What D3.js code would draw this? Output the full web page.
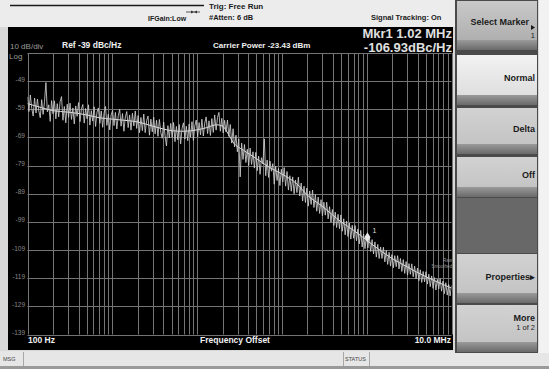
<!DOCTYPE html>
<html>
<head>
<meta charset="utf-8">
<script src="https://cdn.jsdelivr.net/npm/d3@7/dist/d3.min.js"></script>
<style>
  body { margin: 0; background: #d8d8d8; }
  svg { display: block; font-family: 'Liberation Sans', Arial, sans-serif; }
</style>
</head>
<body>
<svg id="screen" width="549" height="369"></svg>
<script>
// Sweep settings
const FREQ_START = 100;
const FREQ_STOP = 1e7;
const REF_LEVEL = -39;
const BOTTOM_LEVEL = -139;

// Y tick labels (10 dB/div)
const levelTicks = [-49, -59, -69, -79, -89, -99, -109, -119, -129, -139];

// Log grid: 1..9 per decade
const gridDecades = [1e2, 1e3, 1e4, 1e5, 1e6];
const gridSteps = [1, 2, 3, 4, 5, 6, 7, 8, 9];

// Smoothed trace
const smoothFreq = [100, 150, 200, 300, 500, 700, 1e3, 1.5e3, 2e3, 3e3, 4e3, 5e3, 7e3, 1e4, 1.3e4, 1.7e4, 2e4, 2.3e4, 2.7e4, 3.5e4, 5e4, 7e4, 1e5, 1.5e5, 2e5, 3e5, 5e5, 7e5, 1e6, 1.5e6, 2e6, 3e6, 5e6, 7e6, 1e7];
const smoothLevel = [-57, -58.5, -59.5, -60, -61, -62, -62.5, -63, -63.5, -65, -66, -66.6, -66.8, -66.3, -65.5, -64.5, -65, -67.5, -71, -73.5, -76.5, -79.5, -82, -85.5, -89.5, -93.5, -99, -102, -105.5, -109.5, -112, -115, -118.5, -120.5, -122.5];

// Raw trace, 300 log-spaced sweep points from 100 Hz to 10 MHz
const rawLevel = [
  -54.6, -59.8, -53.9, -58.7, -61.4, -55.0, -60.3, -55.4, -59.6, -62.0,
  -55.6, -60.8, -56.2, -49.5, -59.9, -57.4, -63.3, -55.9, -60.6, -56.0,
  -62.4, -57.0, -61.7, -56.3, -54.5, -62.9, -58.0, -63.8, -57.2, -61.9,
  -56.8, -62.6, -58.5, -64.2, -57.8, -61.5, -56.6, -63.4, -59.0, -57.3,
  -63.9, -58.7, -62.4, -57.4, -64.6, -59.5, -63.2, -58.1, -65.1, -60.0,
  -58.5, -64.0, -59.6, -65.4, -60.3, -58.0, -64.7, -60.7, -66.3, -61.0,
  -59.4, -64.8, -60.1, -66.0, -61.3, -59.0, -65.0, -60.5, -66.8, -61.7,
  -59.8, -65.5, -61.0, -66.4, -60.4, -64.9, -59.6, -65.8, -61.2, -67.3,
  -61.9, -66.6, -60.7, -67.3, -63.0, -61.4, -68.2, -62.5, -67.0, -61.8,
  -67.7, -62.9, -68.6, -62.6, -67.2, -69.3, -63.5, -68.4, -72.0, -64.8,
  -69.2, -64.0, -69.0, -63.7, -70.5, -65.1, -69.8, -64.4, -71.3, -65.7,
  -63.8, -69.6, -65.0, -70.2, -64.2, -68.9, -63.4, -70.1, -64.9, -62.8,
  -68.8, -63.7, -68.1, -62.5, -68.5, -63.9, -61.7, -67.6, -63.1, -68.3,
  -62.3, -67.2, -61.0, -66.4, -61.9, -60.1, -66.8, -62.2, -67.4, -62.9,
  -67.0, -62.8, -68.6, -64.4, -71.0, -65.9, -72.4, -68.2, -74.1, -69.5,
  -83.0, -71.0, -76.8, -71.5, -77.9, -73.2, -79.0, -72.8, -78.6, -74.1,
  -79.9, -74.3, -80.8, -75.6, -82.1, -76.2, -78.4, -69.5, -82.6, -77.0,
  -83.2, -77.4, -81.0, -78.3, -85.6, -79.2, -84.3, -80.0, -86.1, -80.3,
  -84.8, -79.7, -86.3, -81.1, -87.7, -82.6, -88.1, -83.0, -89.0, -84.1,
  -88.6, -83.1, -89.8, -85.2, -91.6, -86.3, -92.1, -87.0, -93.4, -88.0,
  -92.8, -87.7, -93.9, -89.3, -95.2, -90.2, -96.0, -91.1, -96.9, -92.0,
  -96.6, -92.0, -97.9, -93.6, -99.1, -94.6, -100.3, -95.5, -101.0, -96.3,
  -101.4, -96.5, -102.3, -97.9, -103.6, -98.7, -104.2, -99.4, -105.1, -100.2,
  -104.8, -100.3, -105.7, -101.5, -106.8, -102.0, -107.9, -103.3, -108.5, -104.0,
  -108.3, -104.0, -109.5, -105.3, -110.4, -106.1, -111.5, -107.0, -112.0, -107.9,
  -112.0, -108.0, -113.2, -109.1, -114.1, -109.8, -114.7, -110.6, -115.3, -111.0,
  -114.9, -111.0, -115.7, -112.0, -116.6, -112.4, -117.3, -113.1, -117.9, -113.8,
  -117.6, -113.9, -118.5, -114.7, -119.2, -115.4, -119.9, -116.0, -120.5, -116.6,
  -120.3, -116.7, -121.1, -117.6, -122.0, -118.2, -122.6, -118.8, -123.2, -119.4,
  -122.8, -119.2, -123.6, -120.0, -124.5, -120.6, -125.0, -121.2, -125.3, -121.6
];

// Marker 1
const markerFreq = [1.02e6];
const markerLevel = [-106.93];

// Softkeys on the right
const softkeyTitles = ['Select Marker', 'Normal', 'Delta', 'Off', '', 'Properties\u25B8', 'More'];
const softkeySubtitles = ['1', '', '', '', '', '', '1 of 2'];

const svg = d3.select('#screen');

// ---- frame pieces ----
svg.append('rect').attr('x', 0).attr('y', 0).attr('width', 549).attr('height', 369).attr('fill', '#d8d8d8');
svg.append('rect').attr('x', 0).attr('y', 0).attr('width', 455).attr('height', 27).attr('fill', '#ececec');
svg.append('line').attr('x1', 10).attr('x2', 204).attr('y1', 5.5).attr('y2', 5.5)
  .attr('stroke', '#1a1a1a').attr('stroke-width', 1.6);
// little trigger arrow symbol
svg.append('line').attr('x1', 186).attr('x2', 200).attr('y1', 12).attr('y2', 12).attr('stroke', '#333').attr('stroke-width', 0.8);
svg.append('path').attr('d', 'M191,10.5 L194,12 L191,13.5 Z M197,10.5 L194,12 L197,13.5 Z').attr('fill', '#333');

const topTexts = [
  { t: 'Trig: Free Run', x: 209, y: 9, s: 8 },
  { t: '#Atten: 6 dB', x: 209, y: 20, s: 7.5 },
  { t: 'IFGain:Low', x: 148, y: 21, s: 7 },
  { t: 'Signal Tracking: On', x: 371, y: 20, s: 7.5 }
];
svg.selectAll('text.top').data(topTexts).enter().append('text')
  .attr('class', 'top')
  .attr('x', d => d.x).attr('y', d => d.y)
  .attr('font-size', d => d.s).attr('font-weight', 'bold').attr('fill', '#1a1a1a')
  .text(d => d.t);

// black display
svg.append('rect').attr('x', 8).attr('y', 27).attr('width', 445).attr('height', 323).attr('fill', '#000');

// status bar
svg.append('rect').attr('x', 0).attr('y', 351).attr('width', 549).attr('height', 15).attr('fill', '#e6e6e6');
svg.append('rect').attr('x', 0).attr('y', 366).attr('width', 549).attr('height', 3).attr('fill', '#9a9a9a');
[23, 343, 369].forEach(x => {
  svg.append('line').attr('x1', x + 0.5).attr('x2', x + 0.5).attr('y1', 352).attr('y2', 366).attr('stroke', '#a8a8a8');
});
svg.append('text').attr('x', 3).attr('y', 361).attr('font-size', 5.5).attr('fill', '#444').text('MSG');
svg.append('text').attr('x', 345).attr('y', 361).attr('font-size', 5.5).attr('fill', '#444').text('STATUS');

// ---- plot ----
const x = d3.scaleLog().domain([FREQ_START, FREQ_STOP]).range([27.5, 451.5]);
const y = d3.scaleLinear().domain([BOTTOM_LEVEL, REF_LEVEL]).range([334.5, 53]);

const gridFreqs = gridDecades.flatMap(dec => gridSteps.map(k => k * dec)).concat([FREQ_STOP]);
const allLevels = [REF_LEVEL].concat(levelTicks);

const grid = svg.append('g').attr('stroke', '#747474').attr('stroke-width', 1);
grid.selectAll('line.v').data(gridFreqs).enter().append('line')
  .attr('x1', d => Math.round(x(d)) + 0.5).attr('x2', d => Math.round(x(d)) + 0.5)
  .attr('y1', y(REF_LEVEL)).attr('y2', y(BOTTOM_LEVEL));
grid.selectAll('line.h').data(allLevels).enter().append('line')
  .attr('x1', x(FREQ_START)).attr('x2', x(FREQ_STOP))
  .attr('y1', d => Math.round(y(d)) + 0.5).attr('y2', d => Math.round(y(d)) + 0.5);

svg.selectAll('text.ytick').data(levelTicks).enter().append('text')
  .attr('class', 'ytick')
  .attr('x', 25).attr('y', d => y(d) + 0.5)
  .attr('text-anchor', 'end').attr('font-size', 6.5).attr('fill', '#8a8a8a')
  .text(d => d);

svg.append('clipPath').attr('id', 'plotClip').append('rect')
  .attr('x', x(FREQ_START)).attr('y', y(REF_LEVEL))
  .attr('width', x(FREQ_STOP) - x(FREQ_START)).attr('height', y(BOTTOM_LEVEL) - y(REF_LEVEL));

const rawFreq = rawLevel.map((_, i) => FREQ_START * Math.pow(FREQ_STOP / FREQ_START, i / (rawLevel.length - 1)));
const line = d3.line().x(d => x(d[0])).y(d => y(d[1]));

svg.append('path')
  .datum(smoothFreq.map((f, i) => [f, smoothLevel[i]]))
  .attr('clip-path', 'url(#plotClip)')
  .attr('d', d3.line().curve(d3.curveMonotoneX).x(d => x(d[0])).y(d => y(d[1])))
  .attr('fill', 'none').attr('stroke', '#e6e6e6').attr('stroke-width', 1);

svg.append('path')
  .datum(rawFreq.map((f, i) => [f, rawLevel[i]]))
  .attr('clip-path', 'url(#plotClip)')
  .attr('d', line).attr('fill', 'none').attr('stroke', '#cfcfcf').attr('stroke-width', 0.85);

// marker diamond
const mk = svg.selectAll('g.marker').data(markerFreq.map((f, i) => [f, markerLevel[i]])).enter()
  .append('g').attr('class', 'marker')
  .attr('transform', d => `translate(${x(d[0])},${y(d[1]) - 7})`);
mk.append('path').attr('d', 'M0,-5 L3,0 L0,5 L-3,0 Z').attr('fill', '#e8e8e8');
mk.append('text').attr('x', 5).attr('y', -4).attr('font-size', 7).attr('fill', '#ddd').text((d, i) => i + 1);

// Raw / Smoothed legend
svg.append('text').attr('x', 452).attr('y', 262).attr('text-anchor', 'end').attr('font-size', 4.5).attr('fill', '#999').text('Raw');
svg.append('text').attr('x', 452).attr('y', 268).attr('text-anchor', 'end').attr('font-size', 4.5).attr('fill', '#999').text('Smoothed');

// annotation texts
svg.append('text').attr('x', 10).attr('y', 49).attr('font-size', 8).attr('fill', '#9a9a9a').text('10 dB/div');
svg.append('text').attr('x', 9).attr('y', 59).attr('font-size', 8).attr('fill', '#9a9a9a').text('Log');
svg.append('text').attr('x', 62).attr('y', 48).attr('font-size', 8.5).attr('font-weight', 'bold').attr('fill', '#f0f0f0').text('Ref  -39 dBc/Hz');
svg.append('text').attr('x', 213).attr('y', 48).attr('font-size', 8).attr('font-weight', 'bold').attr('fill', '#f0f0f0').text('Carrier Power -23.43 dBm');
svg.append('text').attr('x', 452).attr('y', 38).attr('text-anchor', 'end').attr('font-size', 13).attr('font-weight', 'bold').attr('fill', '#e0e0e0')
  .text(`Mkr1 ${(markerFreq[0] / 1e6).toFixed(2)} MHz`);
svg.append('text').attr('x', 452).attr('y', 52).attr('text-anchor', 'end').attr('font-size', 13).attr('font-weight', 'bold').attr('fill', '#e0e0e0')
  .text(`${markerLevel[0].toFixed(2)}dBc/Hz`);
svg.append('text').attr('x', 28).attr('y', 343).attr('font-size', 8.5).attr('font-weight', 'bold').attr('fill', '#f0f0f0').text('100 Hz');
svg.append('text').attr('x', 235).attr('y', 343).attr('text-anchor', 'middle').attr('font-size', 8.5).attr('font-weight', 'bold').attr('fill', '#f0f0f0').text('Frequency Offset');
svg.append('text').attr('x', 451).attr('y', 343).attr('text-anchor', 'end').attr('font-size', 8.5).attr('font-weight', 'bold').attr('fill', '#f0f0f0').text('10.0 MHz');

// ---- softkey panel ----
svg.append('rect').attr('x', 455).attr('y', 0).attr('width', 83).attr('height', 353).attr('fill', '#4a4a4a');
svg.append('rect').attr('x', 539).attr('y', 0).attr('width', 10).attr('height', 353).attr('fill', '#f2f2f2');

const defs = svg.append('defs');
const grad = (id, top, bottom) => {
  const g = defs.append('linearGradient').attr('id', id).attr('x1', 0).attr('x2', 0).attr('y1', 0).attr('y2', 1);
  g.append('stop').attr('offset', '0%').attr('stop-color', top);
  g.append('stop').attr('offset', '100%').attr('stop-color', bottom);
};
grad('keyDark', '#c9c9c9', '#a9a9a9');
grad('keyLight', '#f2f2f2', '#dadada');
grad('keyMid', '#d2d2d2', '#c0c0c0');
grad('keyBand', '#9a9a9a', '#6a6a6a');

const keyTops = [1, 55, 108, 157, 198, 254, 305];
const keyBottoms = [50, 105, 154, 197, 253, 303, 352];
const keyFills = ['url(#keyDark)', 'url(#keyLight)', 'url(#keyMid)', 'url(#keyMid)', '#686868', 'url(#keyMid)', 'url(#keyMid)'];

const keys = svg.selectAll('g.key').data(softkeyTitles).enter().append('g').attr('class', 'key');
keys.append('rect')
  .attr('x', 457).attr('y', (d, i) => keyTops[i])
  .attr('width', 80).attr('height', (d, i) => keyBottoms[i] - keyTops[i])
  .attr('fill', (d, i) => keyFills[i]);
keys.filter(d => d !== '').append('rect')
  .attr('x', 457).attr('y', d => keyBottoms[softkeyTitles.indexOf(d)] - 10)
  .attr('width', 80).attr('height', 10)
  .attr('fill', 'url(#keyBand)');
keys.filter(d => d !== '').append('text')
  .attr('x', d => d === 'Select Marker' ? 529 : 535)
  .attr('y', d => {
    const i = softkeyTitles.indexOf(d);
    return softkeySubtitles[i] ? keyTops[i] + 24 - (i === 6 ? 8 : 0) : (keyTops[i] + keyBottoms[i]) / 2 + 1;
  })
  .attr('text-anchor', 'end').attr('font-size', 9).attr('font-weight', 'bold').attr('fill', '#1a1a1a')
  .text(d => d);
keys.filter(d => d !== '').append('text')
  .attr('x', 535)
  .attr('y', d => { const i = softkeyTitles.indexOf(d); return keyTops[i] + (i === 6 ? 25 : 37); })
  .attr('text-anchor', 'end').attr('font-size', 7.5).attr('fill', '#1a1a1a')
  .text(d => softkeySubtitles[softkeyTitles.indexOf(d)]);
// arrow next to Select Marker
svg.append('path').attr('d', 'M531,25 L535,27.5 L531,30 Z').attr('fill', '#1a1a1a');
</script>
</body>
</html>
